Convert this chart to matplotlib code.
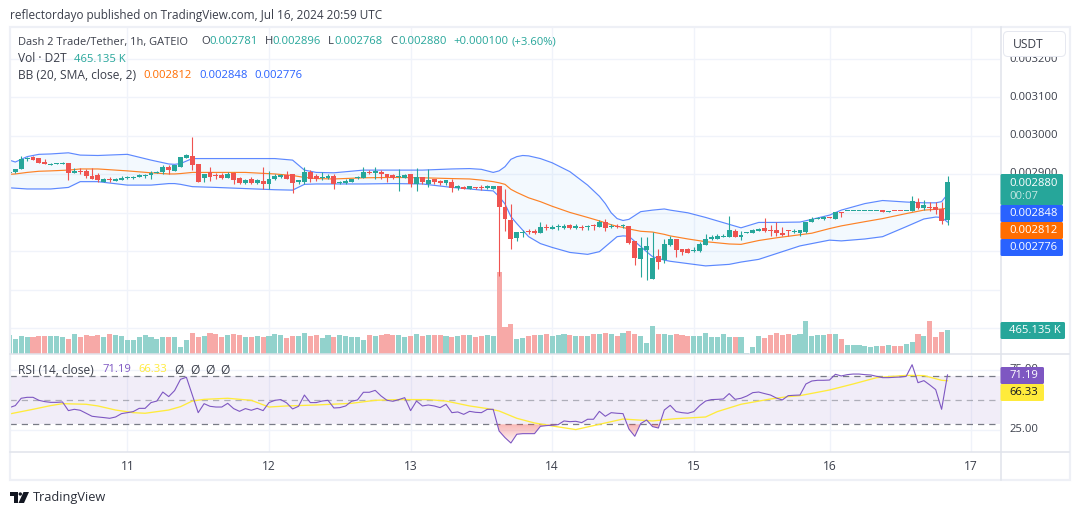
import numpy as np
import matplotlib
matplotlib.use("Agg")
import matplotlib.pyplot as plt
from matplotlib.patches import Rectangle, FancyBboxPatch, Polygon, Circle, PathPatch
from matplotlib.path import Path
from matplotlib.colors import to_rgb

# ---- data (prices in millionths of USDT) ----
opens = [2904,2907,2914,2939,2944,2942,2932,2925,2927,2927,
 2929,2903,2908,2908,2895,2898,2881,2888,2883,2886,
 2891,2891,2894,2895,2897,2903,2906,2919,2909,2920,
 2942,2947,2927,2890,2905,2898,2898,2891,2903,2890,
 2878,2887,2878,2882,2875,2888,2894,2899,2901,2881,
 2881,2907,2896,2890,2891,2895,2878,2878,2881,2890,
 2891,2907,2904,2907,2900,2898,2893,2890,2901,2875,
 2893,2875,2887,2882,2878,2880,2865,2868,2861,2868,
 2868,2864,2862,2869,2815,2781,2734,2748,2752,2752,
 2747,2764,2757,2762,2760,2768,2760,2764,2764,2768,
 2763,2775,2763,2767,2765,2765,2726,2679,2703,2627,
 2687,2677,2716,2732,2706,2705,2700,2700,2716,2732,
 2732,2738,2737,2752,2737,2748,2748,2752,2760,2755,
 2755,2747,2754,2750,2748,2750,2777,2784,2785,2789,
 2784,2802,2806,2806,2806,2806,2806,2806,2807,2803,
 2806,2806,2805,2804,2829,2812,2816,2815,2810,2781]
highs = [2909,2915,2947,2946,2947,2942,2939,2930,2929,2932,
 2929,2916,2916,2913,2916,2904,2890,2893,2891,2895,
 2895,2896,2901,2902,2908,2909,2924,2923,2924,2945,
 2953,2997,2928,2902,2919,2904,2904,2905,2905,2893,
 2888,2893,2888,2918,2908,2900,2902,2908,2901,2885,
 2918,2911,2902,2907,2901,2901,2883,2888,2888,2895,
 2918,2911,2918,2910,2900,2901,2913,2902,2901,2916,
 2893,2915,2887,2885,2885,2887,2872,2870,2869,2868,
 2872,2872,2869,2869,2863,2823,2749,2755,2757,2757,
 2777,2771,2768,2771,2771,2771,2770,2769,2769,2771,
 2781,2783,2771,2771,2771,2765,2726,2736,2736,2750,
 2705,2733,2741,2732,2706,2708,2710,2724,2745,2742,
 2745,2744,2791,2758,2752,2750,2758,2760,2786,2768,
 2777,2763,2755,2757,2755,2777,2788,2790,2791,2789,
 2803,2802,2806,2806,2806,2806,2806,2806,2807,2805,
 2806,2806,2806,2843,2838,2833,2829,2828,2828,2896]
lows = [2902,2904,2914,2934,2938,2930,2927,2925,2927,2927,
 2885,2903,2902,2890,2887,2881,2880,2881,2882,2886,
 2888,2888,2892,2891,2888,2903,2902,2901,2909,2920,
 2942,2911,2881,2881,2883,2888,2888,2891,2875,2876,
 2875,2876,2875,2862,2861,2886,2890,2887,2852,2875,
 2875,2881,2882,2885,2888,2862,2876,2875,2881,2888,
 2891,2901,2888,2888,2881,2887,2857,2890,2868,2857,
 2875,2868,2875,2872,2871,2854,2860,2861,2861,2861,
 2860,2862,2862,2636,2752,2705,2727,2738,2745,2744,
 2747,2755,2757,2756,2757,2757,2757,2755,2756,2756,
 2763,2753,2761,2760,2760,2719,2664,2633,2625,2627,
 2653,2670,2713,2686,2690,2695,2697,2698,2716,2729,
 2732,2738,2737,2737,2729,2748,2748,2752,2750,2739,
 2739,2739,2739,2747,2739,2747,2777,2784,2781,2786,
 2784,2789,2806,2806,2806,2806,2806,2806,2803,2803,
 2805,2805,2805,2804,2810,2807,2805,2797,2771,2768]
closes = [2907,2915,2940,2940,2938,2930,2927,2927,2929,2929,
 2903,2909,2906,2895,2888,2885,2888,2886,2888,2891,
 2893,2893,2899,2897,2904,2906,2919,2912,2924,2945,
 2950,2924,2881,2902,2893,2895,2891,2901,2885,2878,
 2885,2878,2885,2875,2889,2895,2898,2888,2878,2884,
 2906,2888,2888,2892,2896,2875,2881,2883,2888,2893,
 2907,2904,2909,2901,2893,2890,2894,2898,2875,2893,
 2881,2885,2880,2878,2885,2865,2870,2863,2869,2864,
 2865,2869,2869,2816,2784,2732,2749,2751,2750,2747,
 2762,2761,2762,2764,2767,2760,2767,2761,2765,2765,
 2775,2761,2767,2764,2767,2722,2682,2709,2713,2682,
 2673,2718,2732,2703,2698,2695,2703,2718,2732,2737,
 2739,2739,2755,2737,2742,2750,2755,2758,2752,2753,
 2747,2742,2752,2753,2755,2777,2783,2786,2788,2786,
 2803,2800,2806,2806,2806,2806,2806,2806,2803,2804,
 2805,2805,2806,2830,2812,2820,2812,2807,2778,2880]
volumes = [369,293,350,331,331,350,350,350,350,318,
 293,389,331,369,350,369,331,389,369,350,
 274,274,331,369,331,293,331,331,331,140,
 274,408,331,350,408,389,331,369,389,369,
 331,331,350,331,350,389,369,312,350,350,
 408,350,369,312,369,331,369,350,331,331,
 274,369,350,369,389,369,369,331,350,389,
 350,369,369,369,350,331,350,369,369,331,
 350,369,350,1570,522,580,293,312,350,369,
 369,389,350,369,389,369,350,350,350,389,
 389,408,389,350,408,446,389,350,217,541,
 389,389,369,389,369,350,350,350,408,331,
 331,389,331,331,331,25,140,350,312,369,
 408,369,389,369,389,637,350,369,369,389,
 389,293,178,178,178,159,140,159,159,178,
 159,159,197,236,389,350,637,331,427,465.135]
rsi_values = [43.9,45.6,51.7,52.5,52.5,50,48.9,48.3,48.3,48.6,
 41.4,42.5,41.7,39.2,36.7,36.1,35.6,35,36.1,38.9,
 39.7,40.6,43.3,43.3,48.1,49.4,56.9,53.1,58.1,67.5,
 69.2,54.4,39.7,47.2,45,44.4,44.4,47.5,43.1,40.8,
 43.1,41.7,43.3,41.4,48.1,50,50.6,47.8,42.8,45,
 54.4,48.1,48.1,49.4,50,43.6,43.9,45.3,49.2,50.3,
 56.7,56.7,58.3,53.6,50,49.2,50.6,52.2,41.4,49.4,
 45.3,46.1,45.3,43.9,46.7,39.7,40.3,38.3,40.8,40,
 39.7,42.5,42.5,24.4,18.9,14.4,21.7,22.2,22.2,22.2,
 28.3,28.9,29.2,29.7,32.8,32.2,32.5,31.4,34.2,34.2,
 40.8,36.7,39.7,39.2,38.9,26.1,20,30.6,33.6,28.1,
 26.9,41.9,45.8,40.6,39.7,39.2,40.6,45.6,49.4,50.6,
 50.8,51.1,55.6,50.8,51.7,53.6,56.4,56.9,55.6,54.4,
 51.9,50.3,53.9,54.2,54.4,63.6,66.1,66.7,66.7,66.9,
 71.7,70.3,71.4,71.9,71.9,71.4,71.1,70,68.9,68.9,
 69.2,69.4,70,79.7,64.7,66.4,62.8,58.9,42.5,71.19]
rsi_ma_bars = [0,4,7,9,13,15,18,21,23,27,29,31,33,37,41,44,47,52,58,62,66,71,74,78,81,83,
 86,89,92,96,100,104,109,113,118,120,124,129,132,134,139,143,147,152,155,158,159]
rsi_ma_values = [38.6,42.5,45.6,47.2,46.7,45.3,41.9,39.7,39.2,41.9,44.7,49.4,50.8,51.7,50,44.4,45.3,46.1,47.5,50,50.6,50.6,49.4,45.3,43.1,41.1,
 35,31.1,28.6,25.6,30,34.4,32.8,34.7,36.1,40.6,46.7,51.1,53.1,53.9,58.6,63.6,68.9,70.8,70.6,66.7,66.33]
bb_bars = [0,1,3,5,7,10,12,15,20,24,27,28,29,31,35,40,45,48,50,52,55,60,65,70,75,78,80,82,83,84,85,86,87,88,90,92,95,98,
 100,101,102,103,104,105,107,109,111,112,115,118,122,124,127,130,134,136,139,141,145,148,152,155,157,158,159]
bb_upper = [2937,2932,2946,2952,2953,2956,2950,2949,2952,2937,2927,2926,2928,2941,2941,2941,2941,2937,2911,2905,2904,2911,2911,2911,2914,2915,2913,2905,2909,2920,2939,2946,2949,2948,2941,2930,2907,2872,
 2843,2824,2800,2785,2780,2783,2803,2807,2810,2807,2800,2788,2770,2761,2775,2775,2776,2783,2794,2807,2824,2832,2828,2826,2826,2829,2848]
bb_lower = [2865,2864,2862,2862,2862,2866,2881,2881,2872,2872,2876,2876,2874,2868,2866,2863,2860,2859,2874,2875,2875,2875,2876,2875,2866,2862,2859,2857,2842,2823,2790,2772,2755,2738,2720,2710,2697,2692,
 2699,2712,2725,2738,2740,2739,2712,2686,2677,2674,2668,2662,2666,2672,2679,2694,2714,2720,2729,2727,2732,2738,2764,2784,2789,2788,2776]
bb_basis = [2900,2901,2905,2908,2909,2911,2914,2914,2909,2904,2901,2901,2902,2905,2905,2905,2901,2897,2892,2889,2888,2891,2892,2891,2889,2888,2885,2881,2878,2874,2861,2853,2846,2839,2829,2817,2801,2788,
 2779,2774,2769,2765,2762,2758,2752,2750,2744,2740,2732,2725,2719,2718,2728,2735,2743,2747,2759,2766,2777,2785,2798,2807,2809,2810,2812]
day_bars = [20,44,68,92,116,139,163]
day_labels = ["11","12","13","14","15","16","17"]
price_ticks = [2500,2600,2700,2800,2900,3000,3100,3200]

W, H = 1080, 515
UP, DOWN = "#26a69a", "#ef5350"
VUP, VDOWN = "#92d2cc", "#f7a9a7"
BLUE, ORANGE, PURPLE, YELLOW = "#2962ff", "#ff6d00", "#7e57c2", "#ffeb3b"
GRID = "#f0f3fa"
BORDER = "#e0e3eb"
TXT = "#131722"
FONT = "Open Sans"
plt.rcParams["font.family"] = [FONT, "DejaVu Sans"]

fig = plt.figure(figsize=(W/100, H/100), dpi=100, facecolor="white")

def axes_px(x0, y0, x1, y1, z):
    a = fig.add_axes([x0/W, 1-y1/H, (x1-x0)/W, (y1-y0)/H], zorder=z)
    a.set_xticks([]); a.set_yticks([])
    for s in a.spines.values():
        s.set_visible(False)
    a.patch.set_alpha(0)
    return a

XMIN, XMAX = (10-9.4)/5.9, (1000-9.4)/5.9
PY = (2433, 3283)
bars = np.arange(len(closes))
o, h, l, c = map(np.array, (opens, highs, lows, closes))
is_up = c >= o

# grid axis
ag = axes_px(10, 27, 1000, 354, 1)
ag.set_xlim(XMIN, XMAX); ag.set_ylim(*PY)
ag.hlines(price_ticks, XMIN, XMAX, color=GRID, lw=1)
ag.vlines(day_bars, *PY, color=GRID, lw=1)

# volume
av = axes_px(10, 27, 1000, 354, 2)
av.set_xlim(XMIN, XMAX); av.set_ylim(0, 6246)
av.bar(bars, volumes, width=0.86, color=[VUP if u else VDOWN for u in is_up], linewidth=0)

# price
ax = axes_px(10, 27, 1000, 354, 3)
ax.set_xlim(XMIN, XMAX); ax.set_ylim(*PY)
ax.fill_between(bb_bars, bb_lower, bb_upper, color="#2196f3", alpha=0.05, lw=0)
ax.plot(bb_bars, bb_upper, color=BLUE, lw=0.85, alpha=0.75)
ax.plot(bb_bars, bb_lower, color=BLUE, lw=0.85, alpha=0.75)
ax.plot(bb_bars, bb_basis, color=ORANGE, lw=0.85, alpha=0.85)
cols = [UP if u else DOWN for u in is_up]
ax.vlines(bars, l, h, colors=cols, lw=0.8, zorder=4)
ax.bar(bars, np.maximum(np.abs(c-o), 2.6), bottom=np.minimum(o, c), width=0.84, color=cols, linewidth=0, zorder=5)

# RSI pane
ar = axes_px(10, 354.5, 1000, 452, 3)
ar.set_ylim(6.9, 88.2)
ar.hlines([75, 25], XMIN, XMAX, color=GRID, lw=1, zorder=1)
ar.vlines(day_bars, 6.9, 88.2, color=GRID, lw=1, zorder=1)
ar.axhspan(30, 70, color=PURPLE, alpha=0.1, lw=0, zorder=1.5)
ar.hlines([70, 30], XMIN, XMAX, color="#787b86", lw=0.9, linestyles=(0, (5, 4)), zorder=2)
ar.hlines([50], XMIN, XMAX, color="#787b86", lw=0.9, alpha=0.55, linestyles=(0, (5, 4)), zorder=2)
rsi = np.array(rsi_values)
poly = ar.fill_between(bars, rsi, 30, where=rsi < 30, interpolate=True, color="none", lw=0)
clip = Path.make_compound_path(*poly.get_paths())
grad = np.zeros((64, 2, 4))
grad[:, :, :3] = to_rgb(DOWN)
grad[:, :, 3] = np.linspace(0.42, 0.0, 64)[:, None]
im = ar.imshow(grad, extent=[XMIN, XMAX, 12, 30], origin="upper", aspect="auto", zorder=2.5)
im.set_clip_path(PathPatch(clip, transform=ar.transData))
ar.plot(rsi_ma_bars, rsi_ma_values, color=YELLOW, lw=0.95, zorder=3)
ar.plot(bars, rsi, color=PURPLE, lw=0.8, zorder=4)
ar.set_xlim(XMIN, XMAX); ar.set_ylim(6.9, 88.2)

# frame helpers
def line_px(x0, y0, x1, y1, col=BORDER, lw=1.0, z=4):
    fig.add_artist(plt.Line2D([x0/W, x1/W], [1-y0/H, 1-y1/H], color=col, lw=lw, zorder=z))

def box_px(x0, y0, x1, y1, col, z=6, rounding=1.5):
    p = FancyBboxPatch((x0, H-y1), x1-x0, y1-y0, boxstyle=f"round,pad=0,rounding_size={rounding}",
                       fc=col, ec="none", lw=0, zorder=z, transform=None)
    p.set_transform(matplotlib.transforms.Affine2D().scale(1.0))
    fig.add_artist(p)
    return p

def text_px(x, y, s, col=TXT, size=12, ha="left", z=7, weight="normal"):
    fig.text(x/W, 1-y/H, s, color=col, fontsize=size*0.72, ha=ha, va="center", zorder=z, fontweight=weight)

# outer frame and dividers
fig.add_artist(Rectangle((9.5/W, 1-480/H), (1069.5-9.5)/W, (480-27)/H, fill=False, ec="#eef0f6", lw=1.6,
                         transform=fig.transFigure, zorder=4))
line_px(1000.5, 27, 1000.5, 480, lw=1.1)
line_px(10, 354, 1069, 354, lw=1.1)
line_px(10, 452, 1069, 452, lw=1.1)

NUM = 11.3
GT = "#3b3f4b"
# y-axis labels (some sit behind the tags)
for y, s in [(59, "0.003200"), (97, "0.003100"), (136, "0.003000"), (174, "0.002900")]:
    text_px(1009, y, s, col=GT, size=NUM, z=5)
text_px(1009, 370, "75.00", col=GT, size=NUM, z=5)
text_px(1009, 429.5, "25.00", col=GT, size=NUM, z=5)

# USDT button
box_px(1003, 31, 1066, 57, "#e6e8f0", z=6, rounding=5)
box_px(1004, 32, 1065, 56, "white", z=6.1, rounding=4)
text_px(1013, 44.5, "USDT", col=GT, size=12)

# axis tags
box_px(1000.5, 174, 1063, 205, UP)
text_px(1009, 183, "0.002880", col="white", size=NUM)
text_px(1009, 196.5, "00:07", col="#c4e7e3", size=NUM)
box_px(1000.5, 205, 1063, 222, BLUE)
text_px(1009, 213.5, "0.002848", col="white", size=NUM)
box_px(1000.5, 222, 1063, 239, ORANGE)
text_px(1009, 230.5, "0.002812", col="white", size=NUM)
box_px(1000.5, 239, 1063, 256, BLUE)
text_px(1009, 247.5, "0.002776", col="white", size=NUM)
box_px(1000.5, 322, 1065, 339, UP)
text_px(1009, 330.5, "465.135 K", col="white", size=NUM)
box_px(1000.5, 367, 1044, 384, PURPLE)
text_px(1009, 375.5, "71.19", col="white", size=NUM)
box_px(1000.5, 384, 1044, 401, YELLOW)
text_px(1009, 392.5, "66.33", col="#131722", size=NUM)

# date labels
for b, s in zip(day_bars, day_labels):
    text_px(9.4 + 5.9*b, 466, s, col=GT, size=12, ha="center")

# header and legends
text_px(10, 15, "reflectordayo published on TradingView.com, Jul 16, 2024 20:59 UTC", col=GT, size=11.75)
text_px(18, 42, "Dash 2 Trade/Tether, 1h, GATEIO", col=GT, size=11)
for x, s, k in [(201, "O", 0), (209, "0.002781", 1), (264.5, "H", 0), (272.5, "0.002896", 1),
                (328, "L", 0), (334.5, "0.002768", 1), (390, "C", 0), (398, "0.002880", 1),
                (453, "+0.000100", 1), (512, "(+3.60%)", 1)]:
    text_px(x, 42, s, col=UP if k else GT, size=NUM)
text_px(18, 59, "Vol · D2T", col=GT, size=12)
text_px(74, 59, "465.135 K", col=UP, size=NUM)
text_px(18, 75.5, "BB (20, SMA, close, 2)", col=GT, size=12)
text_px(143, 75.5, "0.002812", col=ORANGE, size=NUM)
text_px(199, 75.5, "0.002848", col=BLUE, size=NUM)
text_px(254, 75.5, "0.002776", col=BLUE, size=NUM)
text_px(18, 370, "RSI (14, close)", col=GT, size=12)
text_px(102, 370, "71.19", col=PURPLE, size=NUM)
text_px(138, 370, "66.33", col=YELLOW, size=NUM)
for x in (179, 195, 210, 225):
    text_px(x, 370, "Ø", col=GT, size=12, ha="center")

# TradingView footer
logo = "#131722"
def P(pts):
    return [(x/W, 1-y/H) for x, y in pts]
fig.add_artist(Polygon(P([(10, 492), (18, 492), (18, 503), (14, 503), (14, 496), (10, 496)]), fc=logo, ec="none",
                       transform=fig.transFigure, zorder=6))
fig.add_artist(Polygon(P([(23.5, 492), (29, 492), (24, 503), (18.5, 503)]), fc=logo, ec="none",
                       transform=fig.transFigure, zorder=6))
fig.add_artist(Circle((20.3, H-494), 1.7, fc=logo, ec="none", transform=None, zorder=6))
text_px(33, 497.5, "TradingView", col="#2a2e39", size=12.7)

fig.savefig("out.png", dpi=100, facecolor="white")
